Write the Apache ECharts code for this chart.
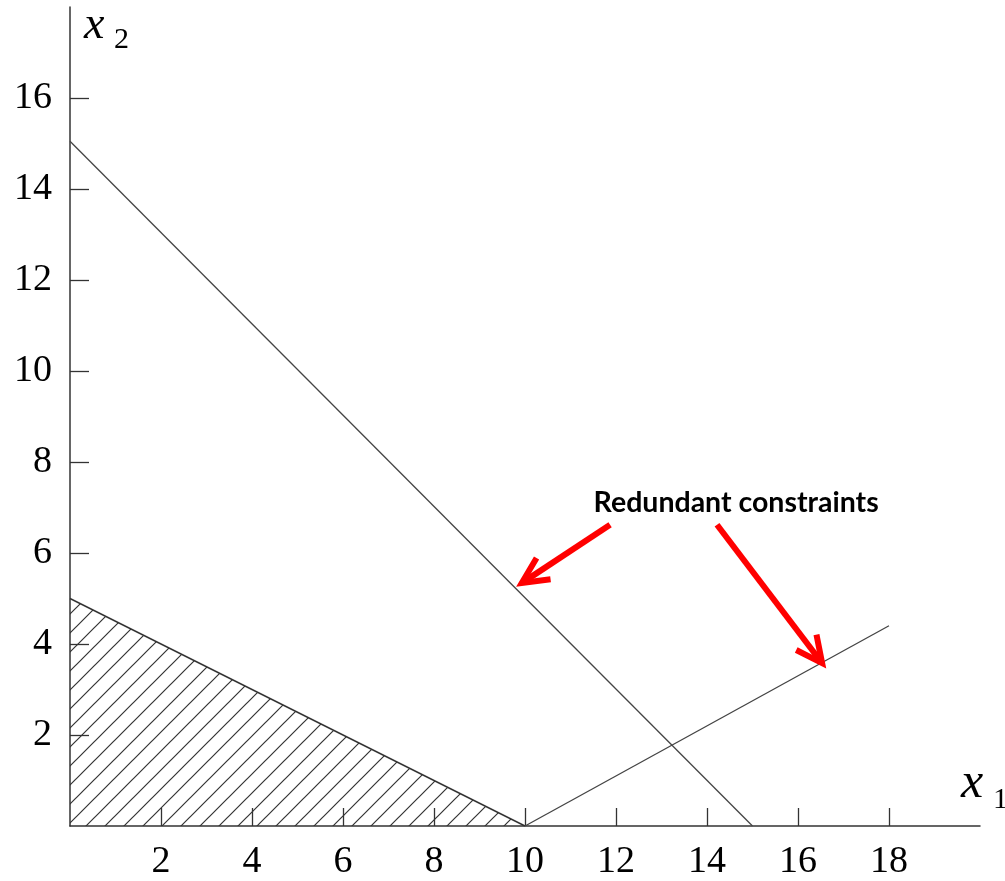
<!DOCTYPE html>
<html>
<head>
<meta charset="utf-8">
<script src="https://cdn.jsdelivr.net/npm/echarts@6/dist/echarts.min.js"></script>
<style>
html,body{margin:0;padding:0;background:#fff;}
#chart{width:1005px;height:881px;}
</style>
</head>
<body>
<div id="chart"></div>
<script>
// ---- data ----
const xTicks = [2, 4, 6, 8, 10, 12, 14, 16, 18];
const yTicks = [2, 4, 6, 8, 10, 12, 14, 16];
const xRange = [0, 20];
const yRange = [0, 18];
const constraintA = [[0, 15.05], [15, 0]];   // redundant constraint 1
const constraintB = [[10, 0], [18, 4.4]];    // redundant constraint 2
const feasibleEdge = [[0, 5], [10, 0]];      // binding constraint (shaded region below)
const arrows = [                              // [fromX, fromY, toX, toY]
  [11.87, 6.62, 9.93, 5.34],
  [14.22, 6.62, 16.53, 3.58]
];
const noteText = 'Redundant constraints';
const notePos = [[14.64, 7.1]];

// ---- hatch pattern ----
const tile = document.createElement('canvas');
tile.width = 19; tile.height = 19;
const tc = tile.getContext('2d');
tc.strokeStyle = '#333';
tc.lineWidth = 1.2;
tc.beginPath();
tc.moveTo(-2, 21); tc.lineTo(21, -2);
tc.moveTo(-2, 2); tc.lineTo(2, -2);
tc.moveTo(17, 21); tc.lineTo(21, 17);
tc.stroke();

const chart = echarts.init(document.getElementById('chart'), null, {renderer: 'canvas'});
const serif = 'Liberation Serif';
const axisCommon = {
  type: 'value',
  interval: 2,
  splitLine: {show: false},
  axisLine: {show: true, lineStyle: {color: '#333', width: 1.5}},
};

const option = {
  animation: false,
  backgroundColor: '#fff',
  grid: {left: 70, right: 25, top: 7, bottom: 55, containLabel: false},
  xAxis: Object.assign({}, axisCommon, {
    min: xRange[0], max: xRange[1],
    axisTick: {show: true, inside: true, length: 18, customValues: xTicks, lineStyle: {color: '#333', width: 1.3}},
    axisLabel: {customValues: xTicks, fontFamily: serif, fontSize: 38, color: '#000', margin: 17}
  }),
  yAxis: Object.assign({}, axisCommon, {
    min: yRange[0], max: yRange[1],
    axisTick: {show: true, inside: true, length: 19, customValues: yTicks, lineStyle: {color: '#333', width: 1.3}},
    axisLabel: {customValues: yTicks, fontFamily: serif, fontSize: 38, color: '#000', margin: 18}
  }),
  series: [
    {
      type: 'line', data: feasibleEdge, showSymbol: false, z: 2,
      lineStyle: {color: '#333', width: 1.4},
      areaStyle: {color: {image: tile, repeat: 'repeat'}, opacity: 1}
    },
    {
      type: 'line', data: constraintA, showSymbol: false, z: 3,
      lineStyle: {color: '#444', width: 1.3}
    },
    {
      type: 'line', data: constraintB, showSymbol: false, z: 3,
      lineStyle: {color: '#444', width: 1.3}
    },
    {
      type: 'custom', z: 5,
      data: arrows,
      encode: {x: [0, 2], y: [1, 3]},
      renderItem: function (params, api) {
        const p0 = api.coord([api.value(0), api.value(1)]);
        const p1 = api.coord([api.value(2), api.value(3)]);
        const dx = p0[0] - p1[0], dy = p0[1] - p1[1];
        const len = Math.sqrt(dx * dx + dy * dy);
        const ux = dx / len, uy = dy / len;
        const a = 26 * Math.PI / 180, L = 29;
        const rot = (s) => [p1[0] + L * (ux * Math.cos(s) - uy * Math.sin(s)), p1[1] + L * (ux * Math.sin(s) + uy * Math.cos(s))];
        const h1 = rot(a), h2 = rot(-a);
        const st = {stroke: '#ff0000', lineWidth: 6, fill: null, lineJoin: 'miter', lineCap: 'butt'};
        return {
          type: 'group',
          children: [
            {type: 'line', shape: {x1: p0[0], y1: p0[1], x2: p1[0] + ux * 3, y2: p1[1] + uy * 3}, style: st},
            {type: 'polyline', shape: {points: [h1, p1, h2]}, style: st}
          ]
        };
      }
    },
    {
      type: 'custom', z: 6,
      data: notePos,
      renderItem: function (params, api) {
        const p = api.coord([api.value(0), api.value(1)]);
        return {
          type: 'text', x: p[0], y: p[1],
          style: {text: noteText, fontFamily: 'Lato', fontWeight: 'bold', fontSize: 28.5, fill: '#000', align: 'center', verticalAlign: 'middle'}
        };
      }
    }
  ],
  graphic: [
    {type: 'text', left: 84, top: 3, style: {text: 'x', fontFamily: serif, fontStyle: 'italic', fontSize: 46, fill: '#000'}},
    {type: 'text', left: 114, top: 25, style: {text: '2', fontFamily: serif, fontSize: 30, fill: '#000'}},
    {type: 'text', left: 961, top: 759, style: {text: 'x', fontFamily: serif, fontStyle: 'italic', fontSize: 50, fill: '#000'}},
    {type: 'text', left: 993, top: 785, style: {text: '1', fontFamily: serif, fontSize: 30, fill: '#000'}}
  ]
};
chart.setOption(option);
</script>
</body>
</html>
